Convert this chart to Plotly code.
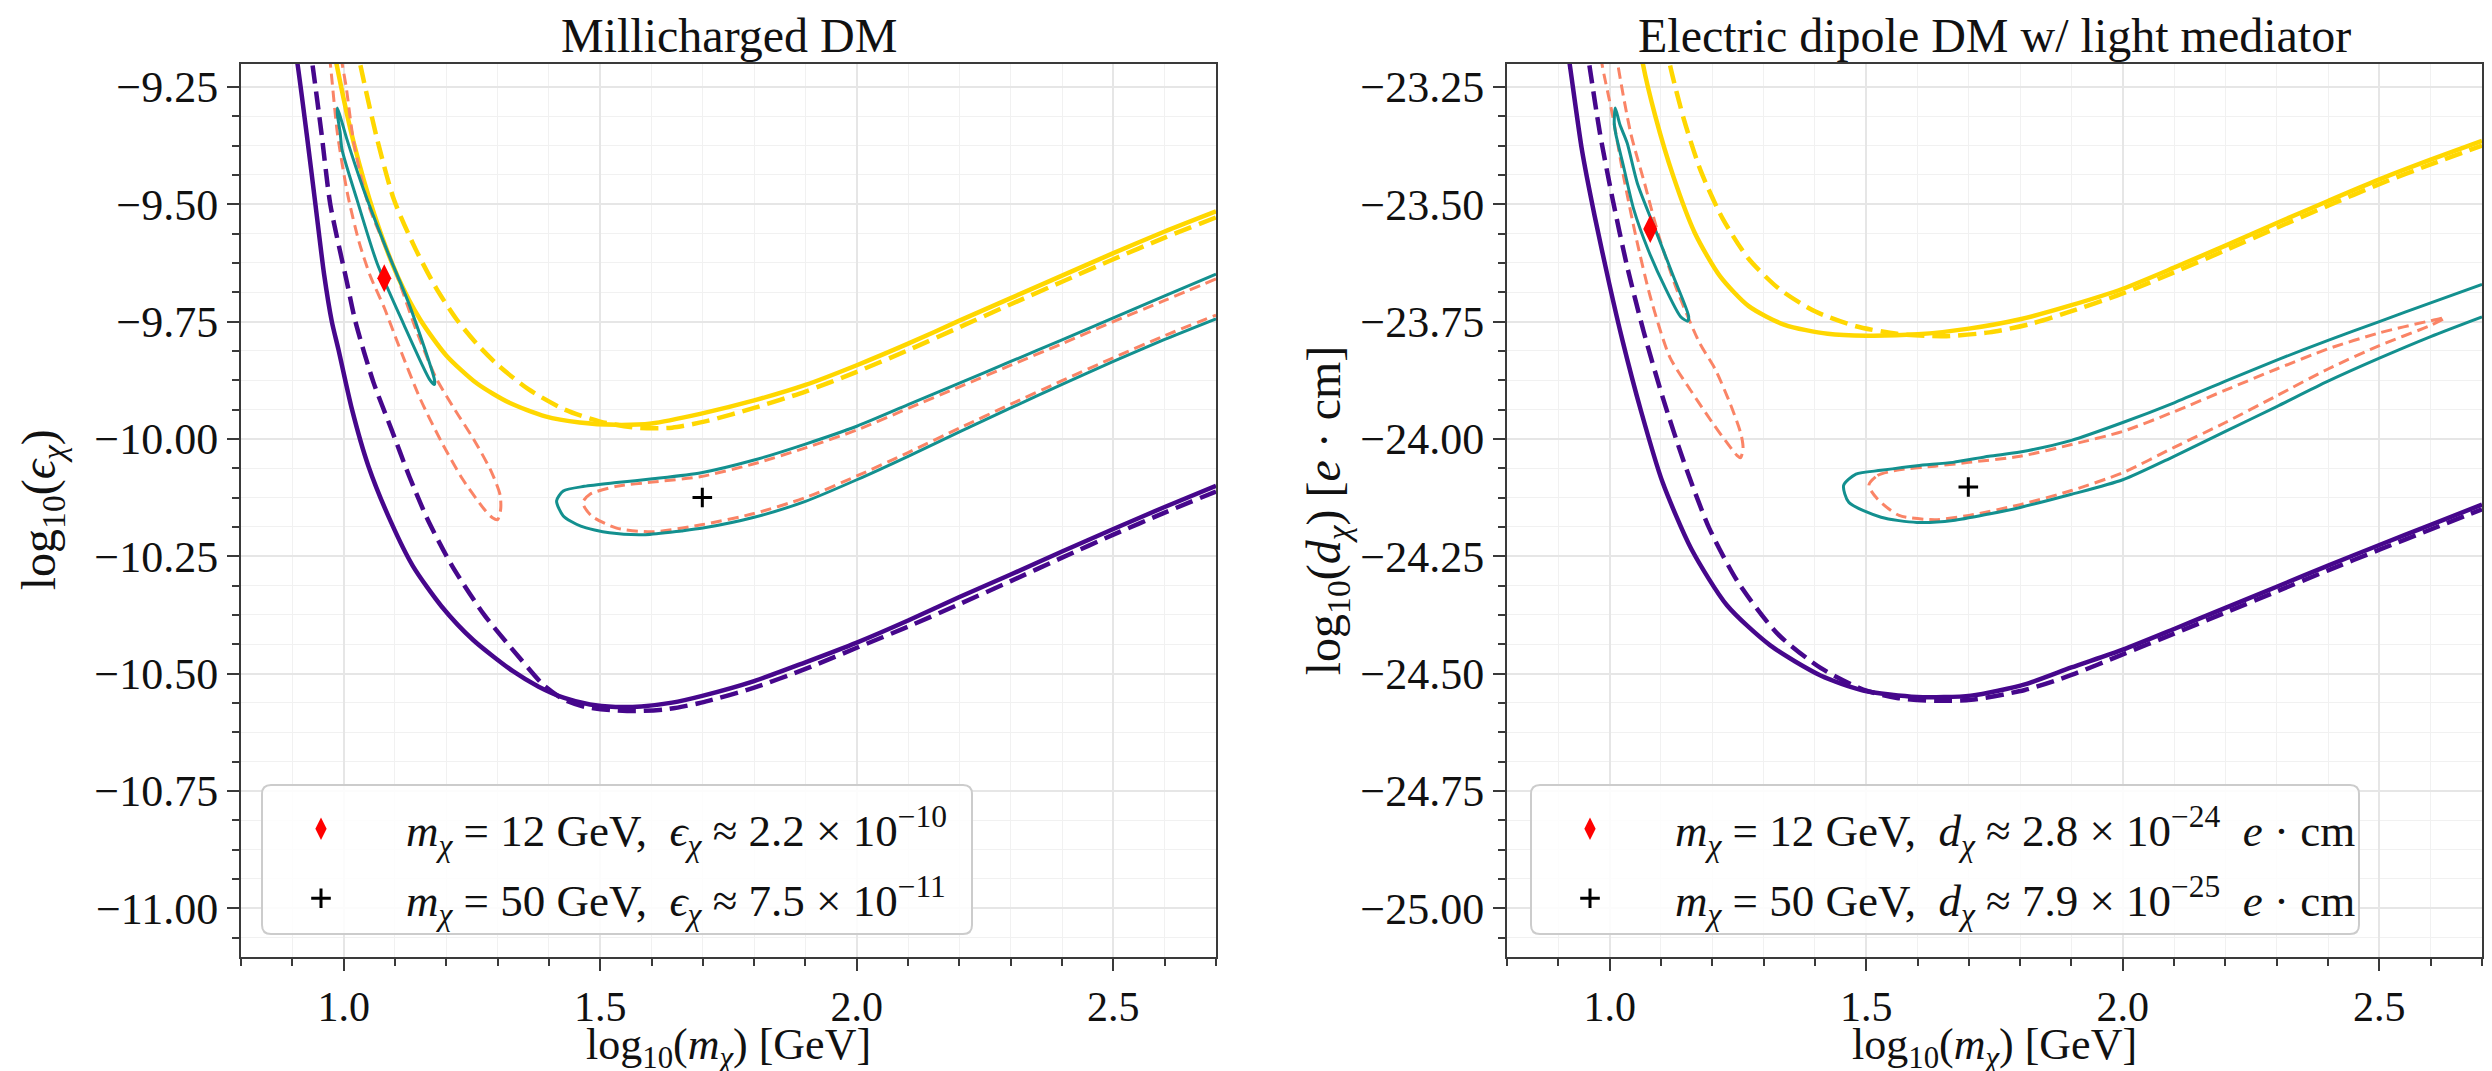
import numpy as np
import plotly.graph_objects as go

# ---------------- Millicharged DM (left panel) ----------------
mc_lim_x = [0.902, 0.910, 0.928, 0.945, 0.962, 0.977, 0.990, 1.016, 1.048, 1.093, 1.135, 1.191, 1.253,
            1.330, 1.380, 1.430, 1.480, 1.530, 1.580, 1.640, 1.697, 1.800, 1.900, 2.000, 2.100, 2.200,
            2.300, 2.400, 2.500, 2.600, 2.700]
mc_lim_y = [-9.15, -9.20, -9.35, -9.50, -9.65, -9.75, -9.81, -9.936, -10.057, -10.179, -10.271, -10.357,
            -10.429, -10.495, -10.528, -10.552, -10.566, -10.571, -10.570, -10.562, -10.548, -10.516,
            -10.476, -10.434, -10.387, -10.337, -10.289, -10.240, -10.192, -10.145, -10.100]

mc_lim_alt_x = [0.932, 0.939, 0.957, 0.974, 1.006, 1.023, 1.058, 1.093, 1.128, 1.163, 1.211, 1.274, 1.344,
                1.390, 1.430, 1.470, 1.520, 1.570, 1.630, 1.697, 1.800, 1.900, 2.000, 2.100, 2.200, 2.300,
                2.400, 2.500, 2.600, 2.700]
mc_lim_alt_y = [-9.15, -9.20, -9.35, -9.50, -9.664, -9.75, -9.879, -9.979, -10.080, -10.170, -10.270,
                -10.375, -10.468, -10.525, -10.556, -10.571, -10.578, -10.580, -10.576, -10.562, -10.530,
                -10.490, -10.445, -10.400, -10.352, -10.303, -10.253, -10.204, -10.157, -10.112]

mc_sens_x = [0.978, 0.986, 1.020, 1.060, 1.105, 1.150, 1.200, 1.260, 1.323, 1.393, 1.460, 1.530, 1.600,
             1.697, 1.800, 1.900, 2.000, 2.100, 2.200, 2.300, 2.400, 2.500, 2.600, 2.700]
mc_sens_y = [-9.15, -9.20, -9.37, -9.522, -9.653, -9.747, -9.822, -9.882, -9.923, -9.952, -9.965, -9.970,
             -9.967, -9.946, -9.918, -9.885, -9.843, -9.797, -9.748, -9.700, -9.652, -9.604, -9.558,
             -9.515]

mc_sens_alt_x = [1.024, 1.032, 1.065, 1.098, 1.140, 1.180, 1.220, 1.260, 1.300, 1.360, 1.430, 1.500, 1.570,
                 1.640, 1.707, 1.800, 1.900, 2.000, 2.100, 2.200, 2.300, 2.400, 2.500, 2.600, 2.700]
mc_sens_alt_y = [-9.15, -9.20, -9.36, -9.49, -9.595, -9.678, -9.745, -9.798, -9.842, -9.894, -9.937,
                 -9.963, -9.976, -9.976, -9.962, -9.934, -9.899, -9.857, -9.811, -9.762, -9.713, -9.665,
                 -9.617, -9.571, -9.528]

# 1-sigma region around the 12 GeV benchmark (closed)
mc_cl12_x = [0.988, 0.998, 1.006, 1.039, 1.084, 1.129, 1.177, 1.177, 1.168, 1.116, 1.065, 1.026, 0.997,
             0.993, 0.988, 0.988]
mc_cl12_y = [-9.295, -9.330, -9.360, -9.469, -9.597, -9.717, -9.874, -9.884, -9.874, -9.753, -9.625,
             -9.490, -9.384, -9.345, -9.310, -9.295]

# 1-sigma region around the 50 GeV benchmark (leaves through the right edge)
mc_cl50_x = [2.700, 2.600, 2.500, 2.400, 2.300, 2.200, 2.100, 2.000, 1.900, 1.800, 1.697, 1.602, 1.532,
             1.469, 1.428, 1.415, 1.428, 1.462, 1.518, 1.588, 1.658, 1.700, 1.800, 1.900, 2.000, 2.100,
             2.200, 2.300, 2.400, 2.500, 2.600, 2.700]
mc_cl50_y = [-9.649, -9.695, -9.742, -9.789, -9.835, -9.881, -9.927, -9.973, -10.011, -10.045, -10.072,
             -10.085, -10.093, -10.101, -10.111, -10.132, -10.164, -10.186, -10.200, -10.204, -10.196,
             -10.190, -10.167, -10.133, -10.087, -10.037, -9.985, -9.934, -9.884, -9.835, -9.788, -9.744]

# reconstructed regions (dashed)
mc_rec12_x = [0.968, 0.974, 0.988, 1.008, 1.030, 1.052, 1.079, 1.107, 1.149, 1.191, 1.232, 1.274, 1.290,
              1.300, 1.306, 1.305, 1.288, 1.253, 1.218, 1.180, 1.142, 1.100, 1.048, 1.020, 1.005, 0.997,
              0.990]
mc_rec12_y = [-9.15, -9.20, -9.35, -9.48, -9.58, -9.653, -9.72, -9.80, -9.914, -10.007, -10.086, -10.150,
              -10.168, -10.172, -10.150, -10.120, -10.070, -10.000, -9.940, -9.870, -9.770, -9.640, -9.500,
              -9.370, -9.250, -9.200, -9.150]

mc_rec50_x = [2.700, 2.600, 2.500, 2.400, 2.300, 2.200, 2.100, 2.000, 1.900, 1.800, 1.697, 1.602, 1.532,
              1.480, 1.466, 1.483, 1.532, 1.602, 1.697, 1.800, 1.900, 2.000, 2.100, 2.200, 2.300, 2.400,
              2.500, 2.600, 2.700]
mc_rec50_y = [-9.659, -9.705, -9.750, -9.797, -9.843, -9.889, -9.935, -9.981, -10.019, -10.053, -10.080,
              -10.092, -10.101, -10.118, -10.136, -10.164, -10.190, -10.198, -10.183, -10.159, -10.125,
              -10.079, -10.029, -9.977, -9.926, -9.876, -9.827, -9.780, -9.736]

mc_bench_mass = [12.0, 50.0]
mc_bench_eps = [2.2e-10, 7.5e-11]
mc_bench_names = ["<i>m</i><sub><i>χ</i></sub> = 12 GeV,  <i>ϵ</i><sub><i>χ</i></sub> ≈ 2.2 × 10<sup>−10</sup>",
                  "<i>m</i><sub><i>χ</i></sub> = 50 GeV,  <i>ϵ</i><sub><i>χ</i></sub> ≈ 7.5 × 10<sup>−11</sup>"]

# ---------------- Electric dipole DM (right panel) ----------------
ed_lim_x = [0.915, 0.922, 0.946, 0.971, 0.999, 1.025, 1.061, 1.103, 1.159, 1.229, 1.313, 1.411, 1.494,
            1.599, 1.704, 1.809, 1.900, 2.000, 2.100, 2.200, 2.300, 2.400, 2.500, 2.600, 2.700]
ed_lim_y = [-23.15, -23.20, -23.384, -23.526, -23.668, -23.79, -23.94, -24.092, -24.234, -24.355, -24.440,
            -24.504, -24.536, -24.550, -24.547, -24.523, -24.487, -24.449, -24.405, -24.360, -24.315,
            -24.270, -24.226, -24.183, -24.140]

ed_lim_alt_x = [0.953, 0.960, 0.981, 1.006, 1.034, 1.066, 1.103, 1.145, 1.194, 1.250, 1.327, 1.411, 1.494,
                1.560, 1.634, 1.704, 1.809, 1.900, 2.000, 2.100, 2.200, 2.300, 2.400, 2.500, 2.600, 2.700]
ed_lim_alt_y = [-23.15, -23.20, -23.348, -23.490, -23.632, -23.77, -23.91, -24.050, -24.190, -24.305,
                -24.415, -24.488, -24.534, -24.552, -24.558, -24.556, -24.535, -24.503, -24.459, -24.415,
                -24.370, -24.325, -24.280, -24.236, -24.193, -24.150]

ed_sens_x = [1.058, 1.065, 1.089, 1.124, 1.166, 1.215, 1.271, 1.341, 1.425, 1.500, 1.600, 1.700, 1.800,
             1.900, 2.000, 2.100, 2.200, 2.300, 2.400, 2.500, 2.600, 2.700]
ed_sens_y = [-23.15, -23.202, -23.312, -23.44, -23.561, -23.653, -23.717, -23.757, -23.776, -23.780,
             -23.777, -23.765, -23.745, -23.715, -23.680, -23.635, -23.588, -23.540, -23.493, -23.447,
             -23.405, -23.365]

ed_sens_alt_x = [1.110, 1.117, 1.145, 1.178, 1.220, 1.270, 1.330, 1.400, 1.480, 1.560, 1.650, 1.740, 1.820,
                 1.891, 2.000, 2.100, 2.200, 2.300, 2.400, 2.500, 2.600, 2.700]
ed_sens_alt_y = [-23.15, -23.20, -23.32, -23.43, -23.53, -23.615, -23.68, -23.728, -23.76, -23.776,
                 -23.781, -23.773, -23.755, -23.731, -23.690, -23.645, -23.598, -23.550, -23.503, -23.457,
                 -23.415, -23.375]

ed_cl12_x = [1.011, 1.020, 1.034, 1.054, 1.089, 1.124, 1.154, 1.152, 1.138, 1.110, 1.075, 1.047, 1.027,
             1.012, 1.009, 1.011]
ed_cl12_y = [-23.295, -23.330, -23.369, -23.455, -23.554, -23.653, -23.739, -23.749, -23.739, -23.682,
             -23.597, -23.511, -23.419, -23.350, -23.327, -23.295]

ed_cl50_x = [2.700, 2.600, 2.500, 2.400, 2.300, 2.200, 2.100, 2.000, 1.900, 1.800, 1.739, 1.669, 1.599,
             1.529, 1.480, 1.456, 1.466, 1.529, 1.599, 1.669, 1.739, 1.800, 1.900, 2.000, 2.100, 2.200,
             2.300, 2.400, 2.500, 2.600, 2.700]
ed_cl50_y = [-23.671, -23.710, -23.750, -23.790, -23.832, -23.877, -23.923, -23.965, -24.003, -24.028,
             -24.037, -24.050, -24.057, -24.067, -24.075, -24.099, -24.135, -24.167, -24.178, -24.174,
             -24.160, -24.146, -24.118, -24.087, -24.037, -23.984, -23.931, -23.877, -23.828, -23.782,
             -23.740]

ed_rec12_x = [0.980, 0.985, 1.006, 1.027, 1.051, 1.079, 1.117, 1.160, 1.200, 1.230, 1.248, 1.255, 1.260,
              1.256, 1.235, 1.205, 1.175, 1.131, 1.096, 1.068, 1.041, 1.016, 1.010]
ed_rec12_y = [-23.15, -23.20, -23.312, -23.44, -23.568, -23.696, -23.825, -23.90, -23.965, -24.010,
              -24.035, -24.040, -24.020, -23.990, -23.925, -23.850, -23.795, -23.682, -23.568, -23.455,
              -23.348, -23.202, -23.15]

ed_rec50_x = [1.505, 1.522, 1.564, 1.634, 1.700, 1.800, 1.900, 2.000, 2.100, 2.200, 2.300, 2.400, 2.500,
              2.600, 2.628, 2.600, 2.500, 2.400, 2.300, 2.200, 2.100, 2.000, 1.900, 1.800, 1.700, 1.634,
              1.564, 1.522, 1.505]
ed_rec50_y = [-24.099, -24.078, -24.066, -24.058, -24.050, -24.037, -24.012, -23.984, -23.942, -23.896,
              -23.851, -23.808, -23.774, -23.748, -23.742, -23.758, -23.801, -23.851, -23.908, -23.965,
              -24.018, -24.072, -24.110, -24.140, -24.163, -24.172, -24.163, -24.128, -24.099]

ed_bench_mass = [12.0, 50.0]
ed_bench_d = [2.8e-24, 7.9e-25]
ed_bench_names = ["<i>m</i><sub><i>χ</i></sub> = 12 GeV,  <i>d</i><sub><i>χ</i></sub> ≈ 2.8 × 10<sup>−24</sup>  <i>e</i> · cm",
                  "<i>m</i><sub><i>χ</i></sub> = 50 GeV,  <i>d</i><sub><i>χ</i></sub> ≈ 7.9 × 10<sup>−25</sup>  <i>e</i> · cm"]

# ---------------- styling ----------------
W, H = 2492, 1071
FONT = "Liberation Serif, DejaVu Serif, serif"
PURPLE = "#46078c"
GOLD = "#ffd700"
TEAL = "#13908f"
SALMON = "#fa8466"
AXC = "#3a3a3a"

fig = go.Figure()


def add_line(x, y, color, width, dash, xa, ya):
    fig.add_trace(go.Scatter(x=x, y=y, mode="lines", xaxis=xa, yaxis=ya, showlegend=False,
                             line=dict(color=color, width=width, dash=dash, shape="spline",
                                       smoothing=0.7),
                             hoverinfo="skip"))


panels = [
    dict(xa="x", ya="y", legend="legend",
         curves=[(mc_lim_x, mc_lim_y, PURPLE, 4.5, "solid"),
                 (mc_lim_alt_x, mc_lim_alt_y, PURPLE, 4.5, "18px,8px"),
                 (mc_sens_x, mc_sens_y, GOLD, 4.5, "solid"),
                 (mc_sens_alt_x, mc_sens_alt_y, GOLD, 4.5, "18px,8px"),
                 (mc_rec12_x, mc_rec12_y, SALMON, 3, "11px,6px"),
                 (mc_rec50_x, mc_rec50_y, SALMON, 3, "11px,6px"),
                 (mc_cl12_x, mc_cl12_y, TEAL, 3, "solid"),
                 (mc_cl50_x, mc_cl50_y, TEAL, 3, "solid")],
         mass=mc_bench_mass, coup=mc_bench_eps, names=mc_bench_names),
    dict(xa="x2", ya="y2", legend="legend2",
         curves=[(ed_lim_x, ed_lim_y, PURPLE, 4.5, "solid"),
                 (ed_lim_alt_x, ed_lim_alt_y, PURPLE, 4.5, "18px,8px"),
                 (ed_sens_x, ed_sens_y, GOLD, 4.5, "solid"),
                 (ed_sens_alt_x, ed_sens_alt_y, GOLD, 4.5, "18px,8px"),
                 (ed_rec12_x, ed_rec12_y, SALMON, 3, "11px,6px"),
                 (ed_rec50_x, ed_rec50_y, SALMON, 3, "11px,6px"),
                 (ed_cl12_x, ed_cl12_y, TEAL, 3, "solid"),
                 (ed_cl50_x, ed_cl50_y, TEAL, 3, "solid")],
         mass=ed_bench_mass, coup=ed_bench_d, names=ed_bench_names),
]

symbols = [dict(symbol="diamond-tall", size=20, color="#ff0000", line=dict(width=0)),
           dict(symbol="cross-thin", size=14, color="#000000", line=dict(width=3, color="#000000"))]

for p in panels:
    for cx, cy, col, wd, ds in p["curves"]:
        add_line(cx, cy, col, wd, ds, p["xa"], p["ya"])
    for k, (m, c, nm, sym) in enumerate(zip(p["mass"], p["coup"], p["names"], symbols)):
        fig.add_trace(go.Scatter(x=[np.log10(m)], y=[np.log10(c)], mode="markers", name=nm,
                                 xaxis=p["xa"], yaxis=p["ya"], legend=p["legend"], marker=sym,
                                 legendgroup=f"{p['legend']}_{k}", hoverinfo="skip"))

# plot-area geometry (pixels)
LX0, LX1, RX0, RX1 = 241, 1216, 1507, 2482
TOP, BOT = 63.5, 957


def px(x):
    return x / W


def py(y):
    return 1 - y / H


axis_common = dict(showline=True, linecolor=AXC, linewidth=2, mirror=True, ticks="outside",
                   ticklen=12, tickwidth=2, tickcolor=AXC, showgrid=True, gridcolor="#e6e6e6",
                   gridwidth=1.5, zeroline=False, tickfont=dict(family=FONT, size=44, color="#111"))

xaxis_common = dict(axis_common, range=[0.8, 2.7], tick0=0, dtick=0.5, tickformat=".1f",
                    tickfont=dict(family=FONT, size=42, color="#111"),
                    minor=dict(tick0=0, dtick=0.1, ticks="outside", ticklen=7, tickwidth=1.5,
                               tickcolor=AXC, showgrid=True, gridcolor="#f1f1f1", gridwidth=1))
yaxis_common = dict(axis_common, tick0=0, dtick=0.25, tickformat=".2f",
                    minor=dict(tick0=0, dtick=0.0625, ticks="outside", ticklen=7, tickwidth=1.5,
                               tickcolor=AXC, showgrid=True, gridcolor="#f1f1f1", gridwidth=1))

fig.update_layout(
    width=W, height=H, margin=dict(l=0, r=0, t=0, b=0),
    paper_bgcolor="white", plot_bgcolor="white",
    xaxis=dict(xaxis_common, domain=[px(LX0), px(LX1)], anchor="y"),
    yaxis=dict(yaxis_common, domain=[py(BOT), py(TOP)], range=[-11.104, -9.2], anchor="x"),
    xaxis2=dict(xaxis_common, domain=[px(RX0), px(RX1)], anchor="y2"),
    yaxis2=dict(yaxis_common, domain=[py(BOT), py(TOP)], range=[-25.104, -23.2], anchor="x2"),
    font=dict(family=FONT, color="#111"),
)

# legends inside each panel
leg_common = dict(bgcolor="rgba(0,0,0,0)", borderwidth=0, font=dict(family=FONT, size=45, color="#111"),
                  xanchor="left", yanchor="top", itemwidth=160, tracegroupgap=8)
fig.update_layout(legend=dict(leg_common, x=px(236), y=py(793)),
                  legend2=dict(leg_common, x=px(1505), y=py(793)))


def rounded_box(x0, y0, x1, y1, r=9):
    a, b, c, d = px(x0), py(y0), px(x1), py(y1)
    rx, ry = r / W, r / H
    return (f"M{a + rx},{b} L{c - rx},{b} Q{c},{b} {c},{b - ry} L{c},{d + ry} Q{c},{d} {c - rx},{d} "
            f"L{a + rx},{d} Q{a},{d} {a},{d + ry} L{a},{b - ry} Q{a},{b} {a + rx},{b} Z")


for bx in [(262, 785, 972, 934), (1531, 785, 2359, 934)]:
    fig.add_shape(type="path", path=rounded_box(*bx), xref="paper", yref="paper", layer="above",
                  line=dict(color="#cccccc", width=2), fillcolor="rgba(255,255,255,0.85)")

# titles and axis labels
lab = dict(xref="paper", yref="paper", showarrow=False, xanchor="center", yanchor="middle",
           font=dict(family=FONT, size=44, color="#111"))
title_font = dict(family=FONT, size=48, color="#111")
fig.add_annotation(lab, x=px((LX0 + LX1) / 2), y=py(36), text="Millicharged DM", font=title_font)
fig.add_annotation(lab, x=px((RX0 + RX1) / 2), y=py(36), text="Electric dipole DM w/ light mediator",
                   font=title_font)
xlabel = "log<sub>10</sub>(<i>m</i><sub><i>χ</i></sub>) [GeV]"
fig.add_annotation(lab, x=px((LX0 + LX1) / 2), y=py(1047), text=xlabel)
fig.add_annotation(lab, x=px((RX0 + RX1) / 2), y=py(1047), text=xlabel)
ylab_font = dict(family=FONT, size=48, color="#111")
fig.add_annotation(lab, x=px(42), y=py((TOP + BOT) / 2), textangle=-90, font=ylab_font,
                   text="log<sub>10</sub>(<i>ϵ</i><sub><i>χ</i></sub>)")
fig.add_annotation(lab, x=px(1327), y=py((TOP + BOT) / 2), textangle=-90, font=ylab_font,
                   text="log<sub>10</sub>(<i>d</i><sub><i>χ</i></sub>) [<i>e</i> · cm]")

fig.write_html("out.html")
